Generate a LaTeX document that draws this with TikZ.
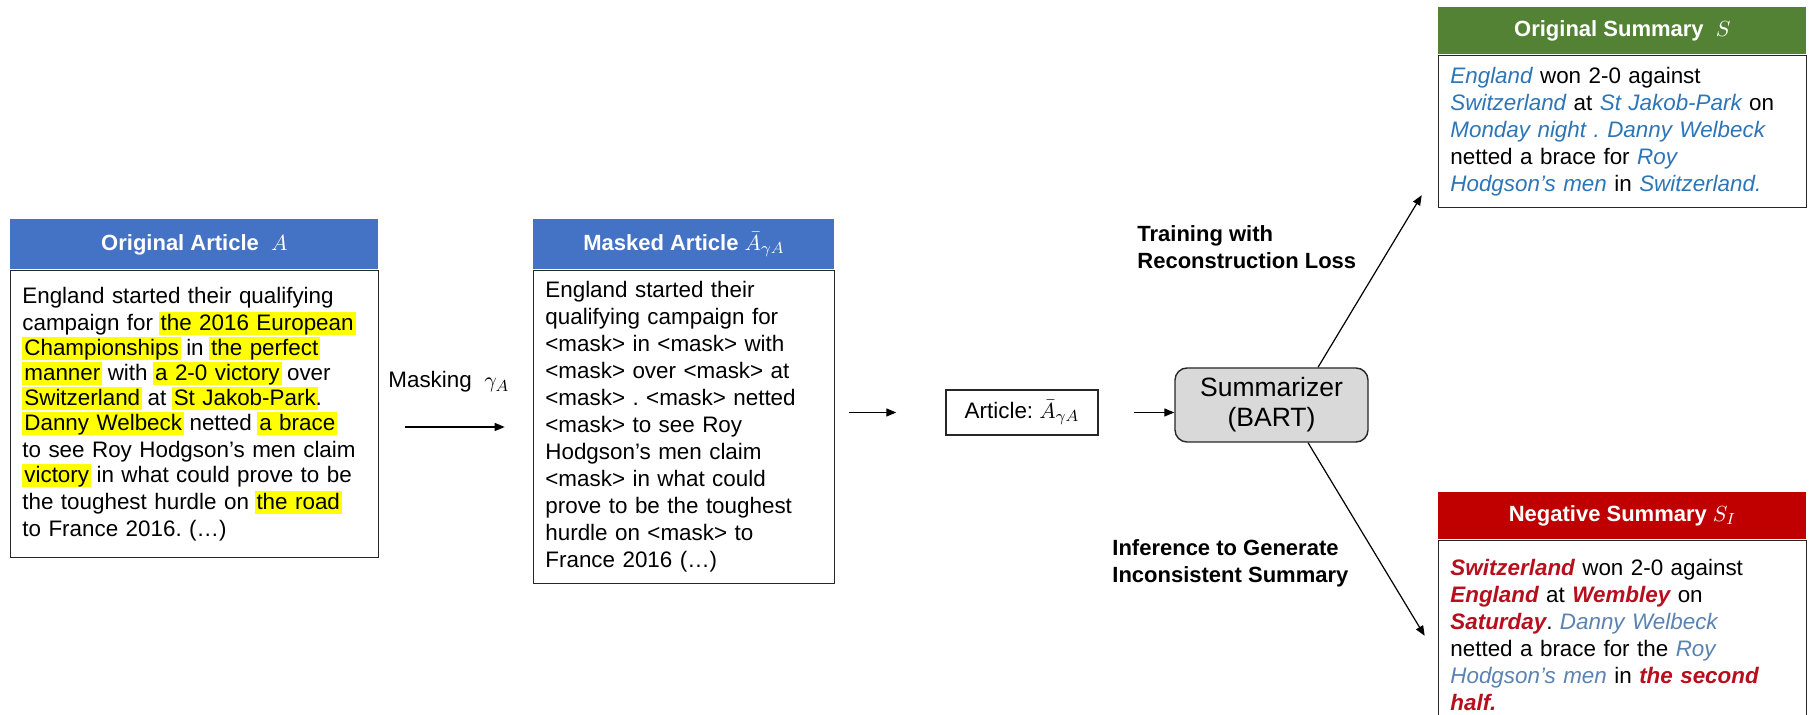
\documentclass[tikz,border=0pt]{standalone}
\usepackage{fontspec}
\setmainfont{Liberation Sans}
\usetikzlibrary{arrows.meta,positioning,calc}
\definecolor{hdrblue}{HTML}{4472C4}
\definecolor{hdrgreen}{HTML}{548235}
\definecolor{hdrred}{HTML}{C00000}
\definecolor{boxline}{HTML}{262626}
\definecolor{summfill}{HTML}{D9D9D9}
\definecolor{entblue}{HTML}{2E75B6}
\definecolor{keepblue}{HTML}{5B82B0}
\definecolor{swapred}{HTML}{B80F1E}
\definecolor{hlyellow}{HTML}{FFFF00}
\frenchspacing
\newcommand{\bodyfont}{\fontsize{11.2}{13.5}\selectfont}
\newcommand{\hlt}[1]{\kern-1pt\relax{\fboxsep=0pt\colorbox{hlyellow}{\kern1pt\relax\rule[-0.22em]{0pt}{1.02em}#1\kern1pt\relax}}\kern-1pt\relax}
\newcommand{\msk}{\textless mask\textgreater}
\newcommand{\sent}[1]{\textcolor{entblue}{\itshape #1}}
\newcommand{\kent}[1]{\textcolor{keepblue}{\itshape #1}}
\newcommand{\nent}[1]{\textcolor{swapred}{\bfseries\itshape #1}}
\tikzset{
  hdrbox/.style={anchor=north west,minimum width=184pt,minimum height=25pt,inner sep=0pt,text=white,font=\bfseries\fontsize{11}{13}\selectfont},
  txtbox/.style={draw=boxline,line width=0.7pt,fill=white,inner xsep=6pt,inner ysep=0pt,align=left,font=\bodyfont},
  lbl/.style={anchor=west,inner sep=0pt,align=left,font=\bfseries\fontsize{11}{13.5}\selectfont},
  arr/.style={-{Triangle[length=5pt,width=4pt]},line width=0.6pt}
}

\begin{document}
\begin{tikzpicture}[x=0.5pt,y=-0.5pt]
  \useasboundingbox (0,0) rectangle (1810,715);

  % article and its masked copy
  \node[hdrbox,fill=hdrblue] (artH) at (10,219) {Original Article~~$A$};
  \node[txtbox,text width=172pt,minimum height=143.5pt,below=0pt of artH] (artB) {
    England started their qualifying\\
    campaign for \hlt{the 2016 European}\\
    \hlt{Championships} in \hlt{the perfect}\\
    \hlt{manner} with \hlt{a 2-0 victory} over\\
    \hlt{Switzerland} at \hlt{St Jakob-Park}.\\
    \hlt{Danny Welbeck} netted \hlt{a brace}\\
    to see Roy Hodgson's men claim\\
    \hlt{victory} in what could prove to be\\
    the toughest hurdle on \hlt{the road}\\
    to France 2016. (…)
  };
  \node[hdrbox,fill=hdrblue,minimum width=150.5pt] (maskH) at (533,219) {Masked Article $\bar{A}_{\gamma A}$};
  \node[txtbox,text width=138.5pt,minimum height=156.5pt,below=0pt of maskH] (maskB) {
    England started their\\
    qualifying campaign for\\
    \msk{} in \msk{} with\\
    \msk{} over \msk{} at\\
    \msk{} . \msk{} netted\\
    \msk{} to see Roy\\
    Hodgson's men claim\\
    \msk{} in what could\\
    prove to be the toughest\\
    hurdle on \msk{} to\\
    France 2016 (…)
  };
  \node[anchor=west,inner sep=0pt,font=\bodyfont] (maskLbl) at (388,382) {Masking~~$\gamma_A$};

  % model
  \node[draw=boxline,line width=0.7pt,minimum width=76pt,minimum height=22.5pt,font=\bodyfont] (artic) at (1022,412.5) {Article: $\bar{A}_{\gamma A}$};
  \node[draw=boxline,line width=0.7pt,fill=summfill,rounded corners=6pt,minimum width=96.5pt,minimum height=37pt,align=center,font=\fontsize{13.25}{15}\selectfont] (summ) at (1271.5,405) {Summarizer\\(BART)};

  % summaries
  \node[hdrbox,fill=hdrgreen,minimum height=23.5pt] (sumH) at (1438,7) {Original Summary~~$S$};
  \node[txtbox,text width=172pt,minimum height=76pt,below=0pt of sumH] (sumB) {
    \sent{England} won 2-0 against\\
    \sent{Switzerland} at \sent{St Jakob-Park} on\\
    \sent{Monday night .} \sent{Danny Welbeck}\\
    netted a brace for \sent{Roy}\\
    \sent{Hodgson's men} in \sent{Switzerland.}
  };
  \node[hdrbox,fill=hdrred,minimum height=23.5pt] (negH) at (1438,492) {Negative Summary $S_I$};
  \node[txtbox,text width=172pt,minimum height=94pt,below=0pt of negH] (negB) {
    \nent{Switzerland} won 2-0 against\\
    \nent{England} at \nent{Wembley} on\\
    \nent{Saturday}. \kent{Danny Welbeck}\\
    netted a brace for the \kent{Roy}\\
    \kent{Hodgson's men} in \nent{the second}\\
    \nent{half.}
  };

  \node[lbl] (trainLbl) at (1137,247) {Training with\\Reconstruction Loss};
  \node[lbl] (inferLbl) at (1112,563.5) {Inference to Generate\\Inconsistent Summary};

  \coordinate (tipS) at ([xshift=-8pt,yshift=6.5pt]sumB.south west);
  \coordinate (tipN) at ([xshift=-6.5pt,yshift=-48pt]negB.north west);

  \draw[arr,shorten <=13pt,shorten >=14pt] (artB.east |- maskB.east) -- (maskB.west);
  \draw[arr,shorten <=7pt,shorten >=24.5pt] (maskB.east |- artic.west) -- (artic.west);
  \draw[arr,shorten <=17.5pt] (artic.east) -- (artic.east -| summ.west);
  \draw[arr] ([xshift=23.25pt]summ.north) -- (tipS);
  \draw[arr] ([xshift=18.25pt]summ.south) -- (tipN);
\end{tikzpicture}
\end{document}
